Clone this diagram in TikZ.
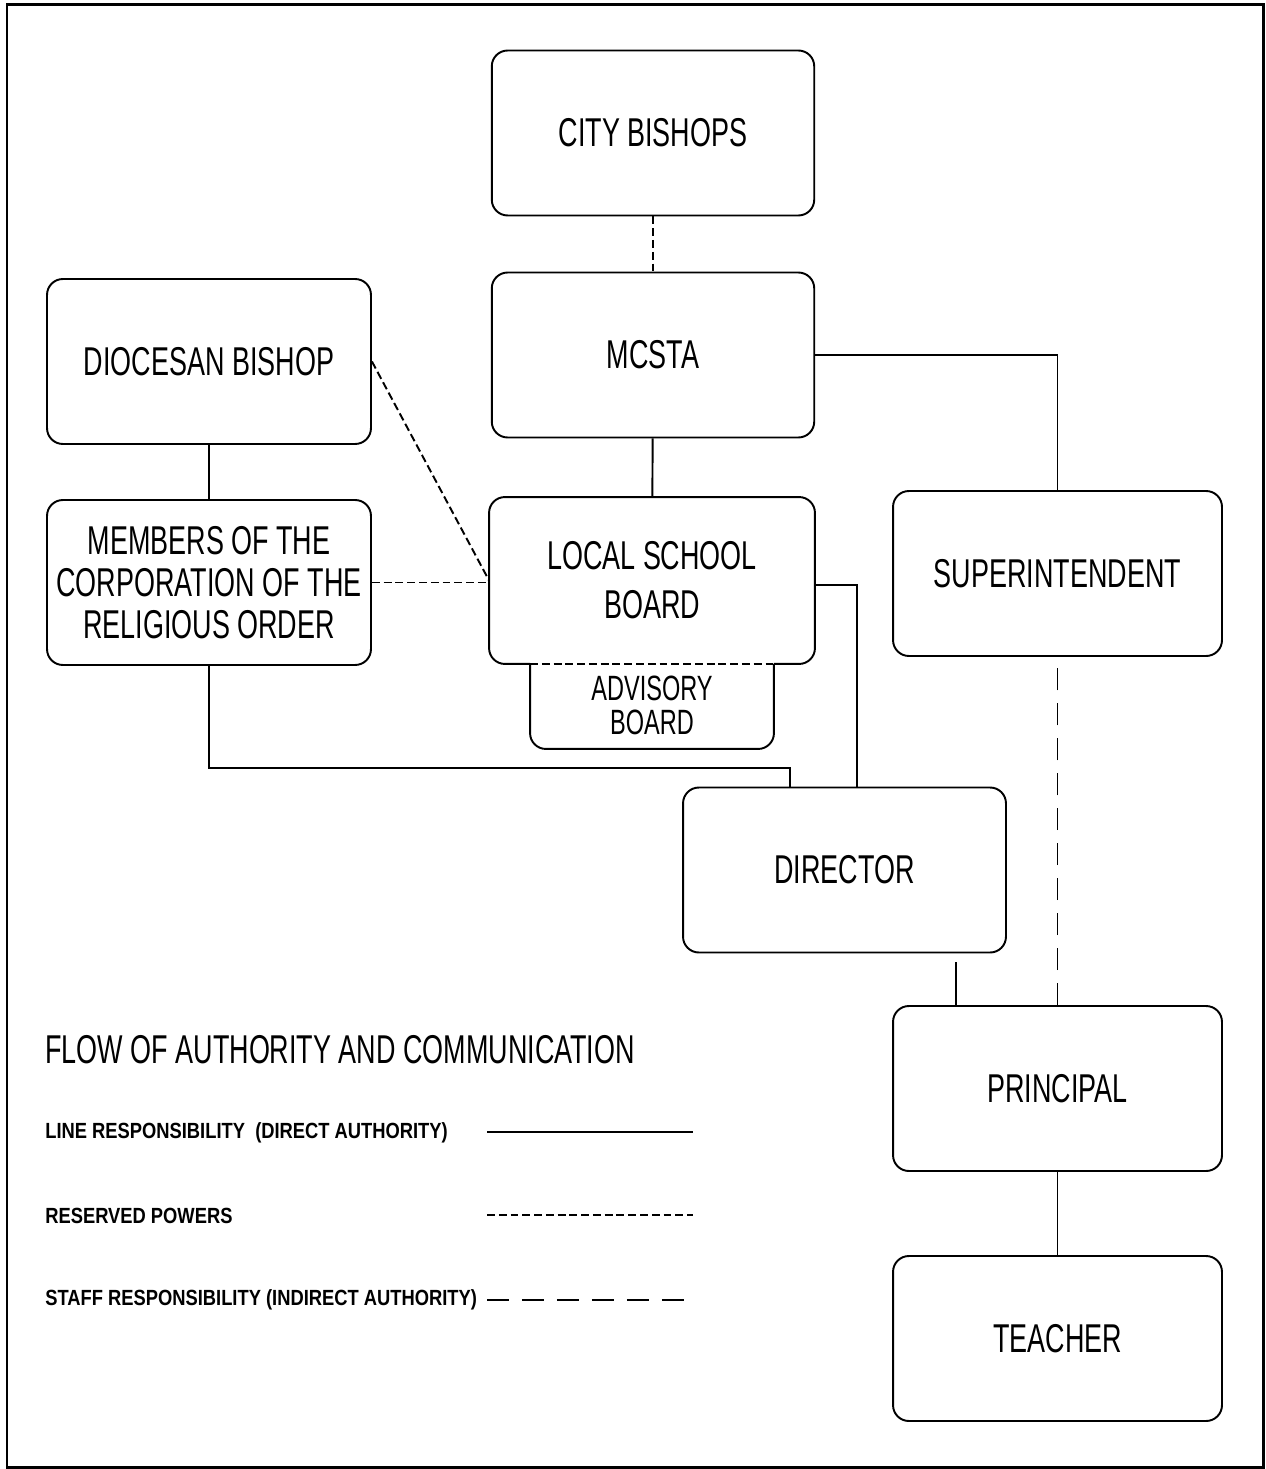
\documentclass[tikz,border=0pt]{standalone}
\usepackage{fontspec}
\usepackage{tikz}
\usetikzlibrary{positioning, calc}
\newfontfamily\plotfont[FakeStretch=0.67]{Liberation Sans}
\newfontfamily\keyfont[FakeStretch=0.835]{Liberation Sans}
\tikzset{
  orgbox/.style={draw, rounded corners=9pt, line width=1.1pt,
                 minimum width=6.45cm, minimum height=3.3cm, inner sep=2pt,
                 align=center, font=\plotfont\fontsize{22.9}{28}\selectfont},
  solidline/.style={line width=1.1pt},
  reserved/.style={line width=1.1pt, dash pattern=on 4.5pt off 2.2pt},
  staff/.style={line width=1.1pt, dash pattern=on 12.5pt off 7.4pt},
  keytext/.style={anchor=west, inner sep=0pt,
                  font=\keyfont\bfseries\fontsize{12.5}{15}\selectfont},
}
\begin{document}
\begin{tikzpicture}[x=0.02cm, y=-0.02cm]

  \useasboundingbox (0,0) rectangle (1266,1469);
  \draw[line width=1.7pt] (7,5) rectangle (1263,1467);

  \node[orgbox] (bishops) at (653,133) {CITY BISHOPS};
  \node[orgbox] (mcsta) at (653,355) {MCSTA};
  \node[orgbox, minimum width=6.48cm] (diocesan) at (209,361.5) {DIOCESAN BISHOP};
  \node[orgbox, minimum width=6.48cm] (members) at (209,582.5)
    {MEMBERS OF THE\\[-4pt]CORPORATION OF THE\\[-4pt]RELIGIOUS ORDER};
  \node[orgbox, draw=none, minimum width=6.48cm] (lsb) at (652,580.5)
    {LOCAL SCHOOL\\BOARD};
  \node[orgbox, draw=none, minimum width=4.84cm, minimum height=1.7cm,
        font=\plotfont\fontsize{20}{19}\selectfont]
    (adv) at (652,705.5) {ADVISORY\\BOARD};
  \node[orgbox, minimum width=6.58cm] (super) at (1057.5,573.5) {SUPERINTENDENT};
  \node[orgbox, minimum width=6.46cm] (director) at (844.5,870) {DIRECTOR};
  \node[orgbox, minimum width=6.58cm] (principal) at (1057.5,1088.5) {PRINCIPAL};
  \node[orgbox, minimum width=6.58cm] (teacher) at (1057.5,1338.5) {TEACHER};

  % school board with advisory board underneath
  \draw[solidline, rounded corners=9pt] (adv.west |- lsb.south) -- (lsb.south west)
    -- (lsb.north west) -- (lsb.north east) -- (lsb.south east) -- (adv.east |- lsb.south);
  \draw[solidline, rounded corners=9pt] (adv.west |- lsb.south) -- (adv.south west)
    -- (adv.south east) -- (adv.east |- lsb.south);
  \draw[reserved] (adv.west |- lsb.south) -- (adv.east |- lsb.south);

  \coordinate (bend) at (790,768);

  \draw[reserved] (bishops) -- (mcsta);
  \draw[solidline] (mcsta.east) -| (super.north);
  \draw[solidline] (mcsta) -- (lsb);
  \draw[solidline] (diocesan) -- (members);
  \draw[reserved] (diocesan.east) -- (lsb.west);
  \draw[reserved] (members.east) -- (members.east -| lsb.west);
  \draw[solidline] ([yshift=-0.09cm]lsb.east) -| ([xshift=3.5cm]director.north west);
  \draw[solidline] (members.south) |- (bend) -- (bend |- director.north);
  \draw[solidline, shorten <=0.18cm] ([xshift=-1.02cm]director.south east)
    -- ([xshift=-1.02cm]director.south east |- principal.north);
  \draw[staff] (principal) -- (super);
  \draw[solidline] (principal) -- (teacher);

  % Legend
  \node[anchor=west, inner sep=0pt, font=\plotfont\fontsize{22.9}{28}\selectfont]
    (keytitle) at (45,1050) {FLOW OF AUTHORITY AND COMMUNICATION};
  \node[keytext] (keyline) at (45,1133) {LINE RESPONSIBILITY\ \ (DIRECT AUTHORITY)};
  \node[keytext] (keyres) at (45,1216) {RESERVED POWERS};
  \node[keytext] (keystaff) at (45,1300) {STAFF RESPONSIBILITY (INDIRECT AUTHORITY)};
  \coordinate (line1a) at (487,1132);  \coordinate (line1b) at (693,1132);
  \coordinate (line2a) at (487,1215);  \coordinate (line2b) at (693,1215);
  \coordinate (line3a) at (487,1300);  \coordinate (line3b) at (693,1300);
  \draw[solidline] (line1a) -- (line1b);
  \draw[reserved] (line2a) -- (line2b);
  \draw[staff] (line3a) -- (line3b);

\end{tikzpicture}
\end{document}
